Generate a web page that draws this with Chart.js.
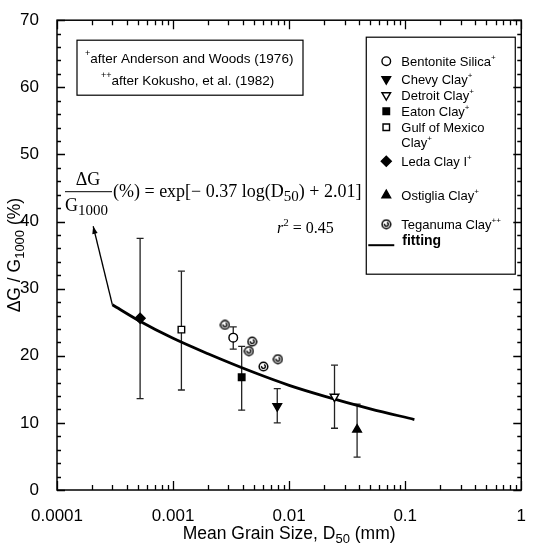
<!DOCTYPE html>
<html>
<head>
<meta charset="utf-8">
<script src="https://cdn.jsdelivr.net/npm/chart.js@4.4.0/dist/chart.umd.min.js"></script>
<style>
html, body { margin: 0; padding: 0; background: #fff; }
#wrap { width: 534px; height: 554px; }
</style>
</head>
<body>
<div id="wrap"><canvas id="my-chart" width="534" height="554"></canvas></div>
<script>
//==========
// Data

const categories = ["Bentonite Silica", "Chevy Clay", "Detroit Clay", "Eaton Clay", "Gulf of Mexico Clay", "Leda Clay I", "Ostiglia Clay"];
const grainSize = [0.0033, 0.0079, 0.0246, 0.0039, 0.00118, 0.00052, 0.0385];// D50 (mm)
const meanDG    = [22.7, 12.5, 13.9, 16.8, 23.9, 25.6, 9.0];// dG/G1000 (%)
const errLow    = [21.0, 10.0, 9.2, 11.9, 14.9, 13.6, 4.9];
const errHigh   = [24.3, 15.1, 18.6, 21.4, 32.6, 37.5, 12.8];

const teganumaSize = [0.0028, 0.0045, 0.0048, 0.0060, 0.0080];
const teganumaDG   = [24.6, 20.7, 22.1, 18.4, 19.5];

// fitting curve
const fitSize = [0.0003, 0.0005, 0.001, 0.002, 0.005, 0.01, 0.02, 0.05, 0.12];
const fitDG   = [27.6, 25.3, 22.6, 20.3, 17.5, 15.6, 14.0, 12.1, 10.5];

const yTicks = [0, 10, 20, 30, 40, 50, 60, 70];
const xTickLabels = ["0.0001", "0.001", "0.01", "0.1", "1"];

//==========
// Marker styles

const SANS = "'Liberation Sans', Arial, sans-serif";
const SERIF = "'Liberation Serif', 'Times New Roman', serif";

const markerStyles = [
	{style: "circle",   r: 4.3, rot: 0,   fill: "#fff"},// Bentonite
	{style: "triangle", r: 5,   rot: 180, fill: "#000"},// Chevy
	{style: "triangle", r: 5,   rot: 180, fill: "#fff"},// Detroit
	{style: "rect",     r: 4.6, rot: 0,   fill: "#000"},// Eaton
	{style: "rect",     r: 4.6, rot: 0,   fill: "#fff"},// Gulf
	{style: "rectRot",  r: 5,   rot: 0,   fill: "#000"},// Leda
	{style: "triangle", r: 5,   rot: 0,   fill: "#000"} // Ostiglia
];

function teganumaIcon(){
	const c = document.createElement("canvas");
	c.width = 11; c.height = 11;
	const g = c.getContext("2d");
	g.strokeStyle = "#000";
	g.fillStyle = "#fff";
	g.lineWidth = 1.5;
	g.beginPath(); g.arc(5.5, 5.5, 4.3, 0, Math.PI*2); g.fill(); g.stroke();
	g.lineWidth = 1.4;
	g.beginPath(); g.arc(5.5, 5.5, 1.9, -Math.PI*0.4, Math.PI*1.1); g.stroke();
	return c;
}
const tegIcon = teganumaIcon();

//==========
// Datasets

const datasets = [];
for(let i=0; i<categories.length; i++){
	const m = markerStyles[i];
	datasets.push({
		label: categories[i],
		data: [{x: grainSize[i], y: meanDG[i]}],
		pointStyle: m.style,
		pointRadius: m.r,
		rotation: m.rot,
		backgroundColor: m.fill,
		borderColor: "#000",
		borderWidth: 1.4,
		order: 0
	});
}
datasets.push({
	label: "Teganuma Clay",
	data: teganumaSize.map((x, i)=>({x: x, y: teganumaDG[i]})),
	pointStyle: tegIcon,
	pointRadius: 5,
	order: 0
});
for(let i=0; i<categories.length; i++){
	datasets.push({
		label: "err",
		data: [{x: grainSize[i], y: errLow[i]}, {x: grainSize[i], y: errHigh[i]}],
		showLine: true,
		borderColor: "#222",
		borderWidth: 1.3,
		pointStyle: "line",
		pointRadius: 3.5,
		pointBorderWidth: 1.3,
		order: 2
	});
}
datasets.push({
	label: "fitting",
	data: fitSize.map((x, i)=>({x: x, y: fitDG[i]})),
	showLine: true,
	borderColor: "#000",
	borderWidth: 2.8,
	pointRadius: 0,
	cubicInterpolationMode: "monotone",
	order: 1
});

//==========
// Helpers

function drawRich(ctx, parts, x, y, align){
	let w = 0;
	for(const p of parts){
		ctx.font = p.font;
		p.w = ctx.measureText(p.text).width;
		w += p.w;
	}
	let cx = align === "center" ? x - w/2 : (align === "right" ? x - w : x);
	ctx.textAlign = "left";
	ctx.textBaseline = "alphabetic";
	for(const p of parts){
		ctx.font = p.font;
		ctx.fillText(p.text, cx, y + (p.dy || 0));
		cx += p.w;
	}
	return w;
}

// frame, inward ticks, titles, annotations and legend
const decorPlugin = {
	id: "decor",
	afterDraw(chart){
		const ctx = chart.ctx;
		const a = chart.chartArea;
		const xs = chart.scales.x, ys = chart.scales.y;
		ctx.save();
		ctx.strokeStyle = "#000";
		ctx.fillStyle = "#000";

		// frame
		ctx.lineWidth = 1.5;
		ctx.strokeRect(a.left, a.top, a.right - a.left, a.bottom - a.top);

		// y ticks (both sides)
		ctx.lineWidth = 1.3;
		ctx.beginPath();
		for(let v=0; v<=70; v+=2){
			const py = Math.round(ys.getPixelForValue(v)) + 0.5;
			const len = v % 10 === 0 ? 8 : 4;
			ctx.moveTo(a.left, py); ctx.lineTo(a.left + len, py);
			ctx.moveTo(a.right, py); ctx.lineTo(a.right - len, py);
		}
		// x ticks (top and bottom)
		for(let e=-4; e<=0; e++){
			for(let m=1; m<=9; m++){
				if(e === 0 && m > 1) break;
				const px = Math.round(xs.getPixelForValue(m * Math.pow(10, e))) + 0.5;
				const len = m === 1 ? 9 : 5;
				ctx.moveTo(px, a.bottom); ctx.lineTo(px, a.bottom - len);
				ctx.moveTo(px, a.top); ctx.lineTo(px, a.top + len);
			}
		}
		ctx.stroke();

		// axis titles
		const fT = "17.5px " + SANS, fTs = "13px " + SANS;
		drawRich(ctx, [
			{text: "Mean Grain Size, D", font: fT},
			{text: "50", font: fTs, dy: 4},
			{text: " (mm)", font: fT}
		], (a.left + a.right)/2, 539, "center");
		ctx.save();
		ctx.translate(20, (a.top + a.bottom)/2);
		ctx.rotate(-Math.PI/2);
		drawRich(ctx, [
			{text: "\u0394G / G", font: fT},
			{text: "1000", font: fTs, dy: 4},
			{text: " (%)", font: fT}
		], 0, 0, "center");
		ctx.restore();

		// reference box
		const bx = a.left + 20, by = a.top + 20;
		ctx.lineWidth = 1.2;
		ctx.strokeRect(bx, by, 226, 55);
		const f13 = "13.5px " + SANS, f9 = "9px " + SANS;
		drawRich(ctx, [
			{text: "+", font: f9, dy: -7},
			{text: "after Anderson and Woods (1976)", font: f13}
		], bx + 8, by + 23, "left");
		drawRich(ctx, [
			{text: "++", font: f9, dy: -7},
			{text: "after Kokusho, et al. (1982)", font: f13}
		], bx + 24, by + 45, "left");

		// equation
		const fs = "18px " + SERIF, fsub = "15px " + SERIF;
		const ex = a.left + 8, ey = a.top + 171;
		drawRich(ctx, [{text: "\u0394G", font: fs}], ex + 23, ey - 6, "center");
		ctx.lineWidth = 1;
		ctx.beginPath();
		ctx.moveTo(ex, ey + 0.5); ctx.lineTo(ex + 47, ey + 0.5);
		ctx.stroke();
		drawRich(ctx, [
			{text: "G", font: fs},
			{text: "1000", font: fsub, dy: 4}
		], ex, ey + 20, "left");
		drawRich(ctx, [
			{text: "(%) = exp[\u2212 0.37 log(D", font: fs},
			{text: "50", font: fsub, dy: 4},
			{text: ") + 2.01]", font: fs}
		], ex + 48, ey + 6, "left");
		drawRich(ctx, [
			{text: "r", font: "italic 16px " + SERIF},
			{text: "2", font: "11px " + SERIF, dy: -7},
			{text: " = 0.45", font: "16px " + SERIF}
		], a.left + 220, a.top + 213, "left");

		// arrow from the curve start up to the equation
		const x0 = xs.getPixelForValue(fitSize[0]), y0 = ys.getPixelForValue(fitDG[0]);
		const x1 = xs.getPixelForValue(0.000205), y1 = ys.getPixelForValue(39.3);
		ctx.lineWidth = 1.3;
		ctx.beginPath(); ctx.moveTo(x0, y0); ctx.lineTo(x1, y1); ctx.stroke();
		const ang = Math.atan2(y1 - y0, x1 - x0);
		ctx.beginPath();
		ctx.moveTo(x1, y1);
		ctx.lineTo(x1 - 8*Math.cos(ang - 0.35), y1 - 8*Math.sin(ang - 0.35));
		ctx.lineTo(x1 - 8*Math.cos(ang + 0.35), y1 - 8*Math.sin(ang + 0.35));
		ctx.closePath(); ctx.fill();

		// legend box
		const lx = a.right - 155, ly = a.top + 17, lw = 149, lh = 237;
		ctx.lineWidth = 1.2;
		ctx.strokeRect(lx, ly, lw, lh);
		const rows = [24, 42, 58, 74, 90, 124, 158, 187];
		const names = [["Bentonite Silica"], ["Chevy Clay"], ["Detroit Clay"], ["Eaton Clay"],
			["Gulf of Mexico", "Clay"], ["Leda Clay I"], ["Ostiglia Clay"], ["Teganuma Clay"]];
		const marks = ["+", "+", "+", "+", "+", "+", "+", "++"];
		const fL = "13px " + SANS, f8 = "8px " + SANS;
		for(let i=0; i<names.length; i++){
			const ry = ly + rows[i];
			const ds = chart.data.datasets[i];
			ctx.fillStyle = ds.backgroundColor || "#fff";
			ctx.strokeStyle = "#000";
			ctx.lineWidth = 1.4;
			Chart.helpers.drawPoint(ctx, {
				pointStyle: ds.pointStyle,
				radius: ds.pointRadius,
				rotation: ds.rotation || 0,
				borderWidth: 1.4
			}, lx + 20, ry);
			ctx.fillStyle = "#000";
			const lines = names[i];
			for(let k=0; k<lines.length; k++){
				const parts = [{text: lines[k], font: fL}];
				if(k === lines.length - 1) parts.push({text: marks[i], font: f8, dy: -6});
				drawRich(ctx, parts, lx + 35, ry + 4.5 + k*15.5, "left");
			}
		}
		ctx.lineWidth = 2;
		ctx.beginPath();
		ctx.moveTo(lx + 2, ly + 208); ctx.lineTo(lx + 28, ly + 208);
		ctx.stroke();
		drawRich(ctx, [{text: "fitting", font: "bold 14px " + SANS}], lx + 36, ly + 208, "left");

		ctx.restore();
	}
};

//==========
// Chart

const ctx = document.getElementById("my-chart").getContext("2d");
const myChart = new Chart(ctx, {
	type: "scatter",
	data: {datasets: datasets},
	options: {
		responsive: false,
		devicePixelRatio: 1,
		animation: false,
		layout: {padding: {top: 12, right: 12, left: 0, bottom: 0}},
		plugins: {
			legend: {display: false},
			tooltip: {enabled: false}
		},
		scales: {
			x: {
				type: "logarithmic",
				min: 0.0001,
				max: 1,
				grid: {display: false},
				border: {display: false},
				afterFit: s => { s.height = 64; },
				afterBuildTicks: s => {
					s.ticks = xTickLabels.map(t=>({value: Number(t)}));
				},
				ticks: {
					autoSkip: false,
					maxRotation: 0,
					padding: 8,
					color: "#000",
					font: {family: SANS, size: 17},
					callback: (v, i) => xTickLabels[i]
				}
			},
			y: {
				min: 0,
				max: 70,
				grid: {display: false},
				border: {display: false},
				afterFit: s => { s.width = 57; },
				afterBuildTicks: s => {
					s.ticks = yTicks.map(v=>({value: v}));
				},
				ticks: {
					padding: 10,
					color: "#000",
					font: {family: SANS, size: 17},
					callback: v => String(v)
				}
			}
		}
	},
	plugins: [decorPlugin]
});
</script>
</body>
</html>
